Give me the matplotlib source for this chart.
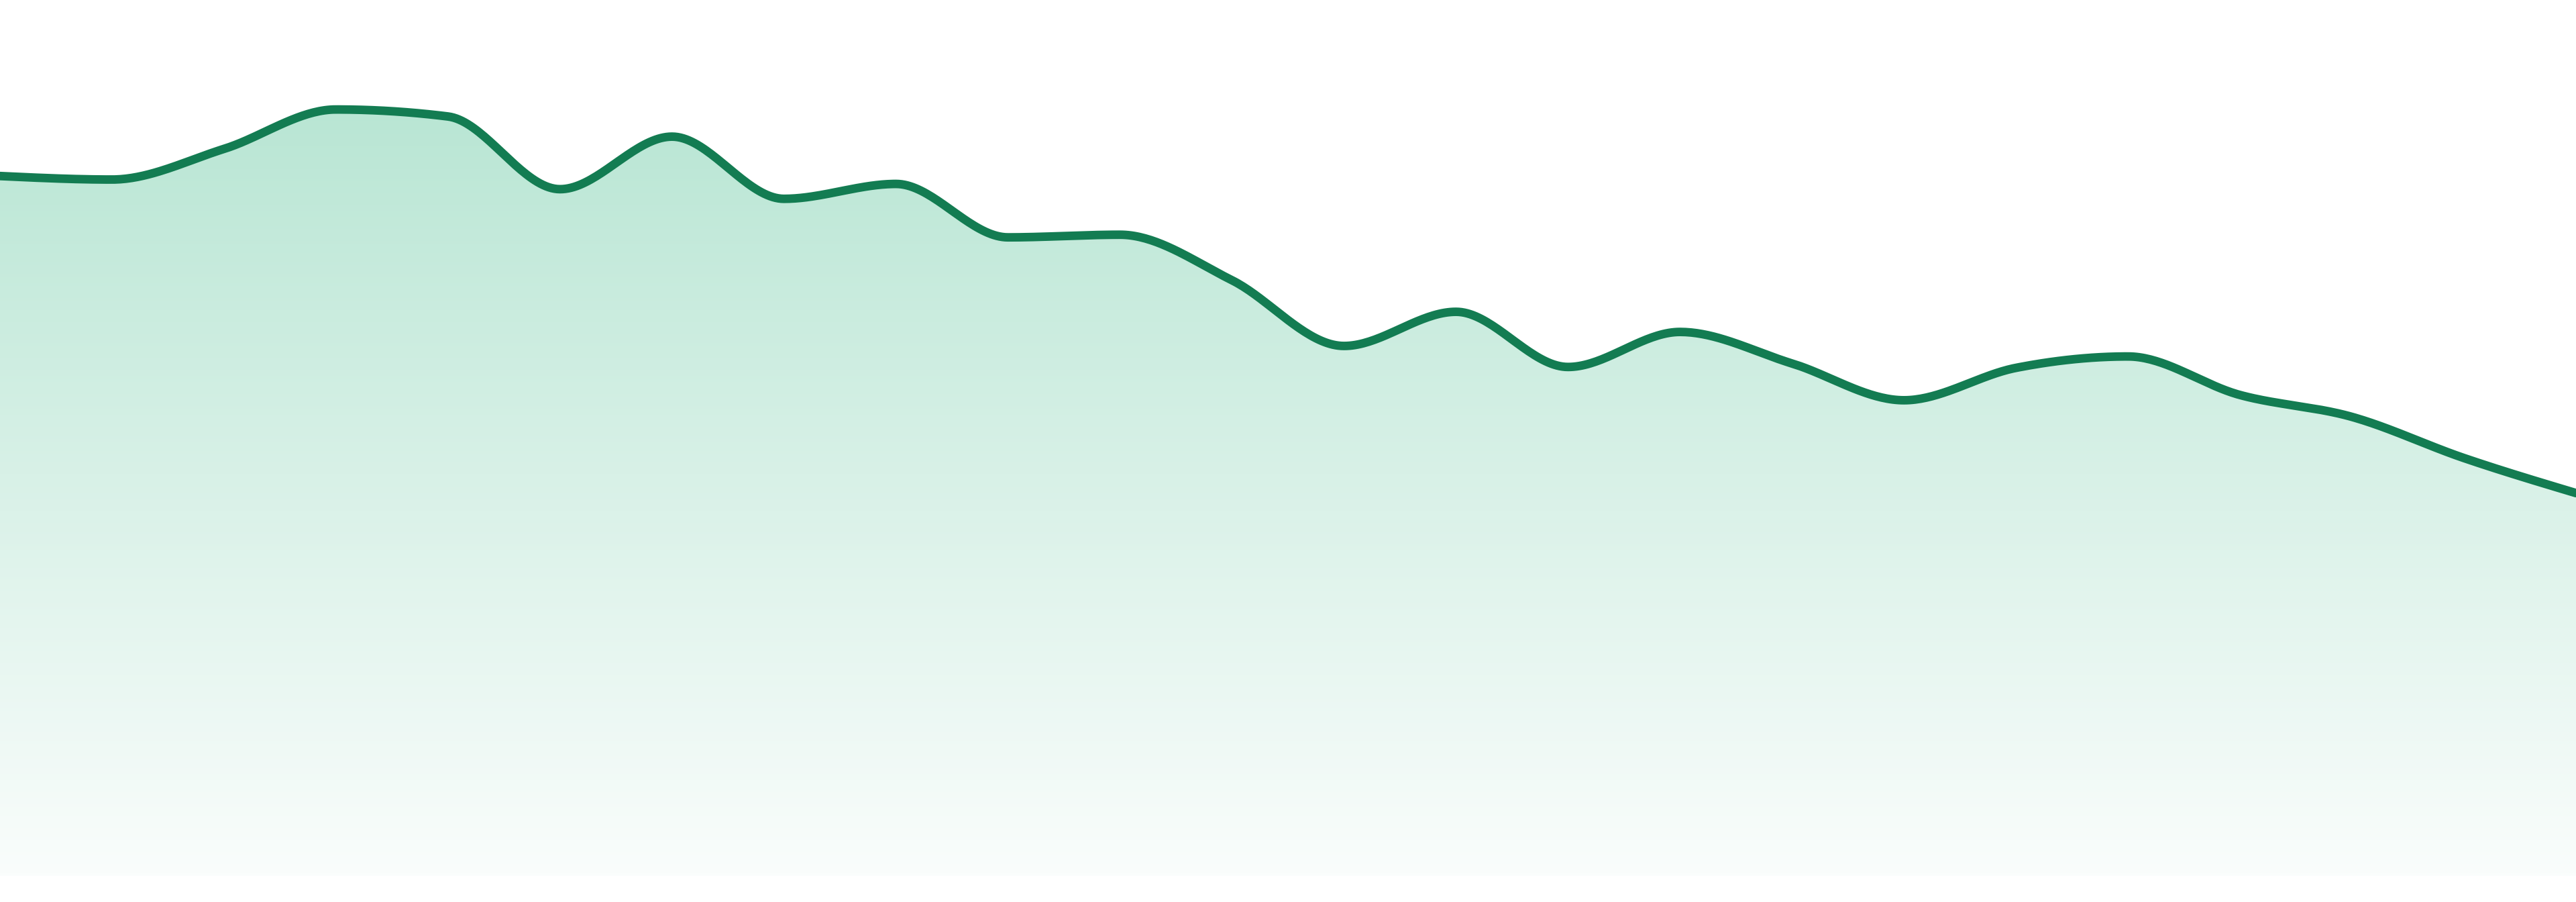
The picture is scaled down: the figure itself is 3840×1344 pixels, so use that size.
import numpy as np
import matplotlib
matplotlib.use("Agg")
import matplotlib.pyplot as plt
from matplotlib.colors import LinearSegmentedColormap

# values (24 evenly spaced points)
points = list(range(24))
values = [79.9, 79.5, 83.0, 87.5, 86.7, 78.4, 84.4, 77.3, 79.0, 72.9, 73.2, 68.0,
          60.5, 64.4, 58.1, 62.1, 58.5, 54.3, 58.0, 59.3, 54.9, 52.4, 47.7, 43.7]

line_color = "#137c52"


def monotone_curve(x, y, steps=40):
    # d3 curveMonotoneX style smoothing, used only to draw the line
    x = np.asarray(x, float)
    y = np.asarray(y, float)
    n = len(x)
    h = np.diff(x)
    s = np.diff(y) / h
    t = np.zeros(n)
    for i in range(1, n - 1):
        p = (s[i - 1] * h[i] + s[i] * h[i - 1]) / (h[i - 1] + h[i])
        t[i] = (np.sign(s[i - 1]) + np.sign(s[i])) * min(abs(s[i - 1]), abs(s[i]), 0.5 * abs(p))
    t[0] = (3 * s[0] - t[1]) / 2
    t[-1] = (3 * s[-1] - t[-2]) / 2
    xs, ys = [], []
    for i in range(n - 1):
        u = np.linspace(0, 1, steps, endpoint=(i == n - 2))
        h00 = 2 * u**3 - 3 * u**2 + 1
        h10 = u**3 - 2 * u**2 + u
        h01 = -2 * u**3 + 3 * u**2
        h11 = u**3 - u**2
        xs.append(x[i] + u * h[i])
        ys.append(h00 * y[i] + h10 * h[i] * t[i] + h01 * y[i + 1] + h11 * h[i] * t[i + 1])
    return np.concatenate(xs), np.concatenate(ys)


cx, cy = monotone_curve(points, values)

fig = plt.figure(figsize=(19.2, 6.72), dpi=200)
ax = fig.add_axes([0, 39 / 1344, 1, 1305 / 1344])
ax.set_xlim(points[0], points[-1])
ax.set_ylim(0, 100)
ax.axis("off")

# gradient fill under the curve
fill = ax.fill_between(cx, cy, 0, color="none", lw=0)
top = max(values)
cmap = LinearSegmentedColormap.from_list("g", ["#fafdfc", "#b9e6d4"])
grad = np.linspace(0, 1, 256).reshape(-1, 1)
img = ax.imshow(grad, cmap=cmap, aspect="auto", origin="lower",
                extent=(points[0], points[-1], 0, top), zorder=1)
clip = fill.get_paths()[0]
img.set_clip_path(clip, transform=ax.transData)

ax.plot(cx, cy, color=line_color, lw=4.6, solid_capstyle="round",
        solid_joinstyle="round", zorder=3, clip_on=False)

fig.savefig("out.png", dpi=200, facecolor="white")
